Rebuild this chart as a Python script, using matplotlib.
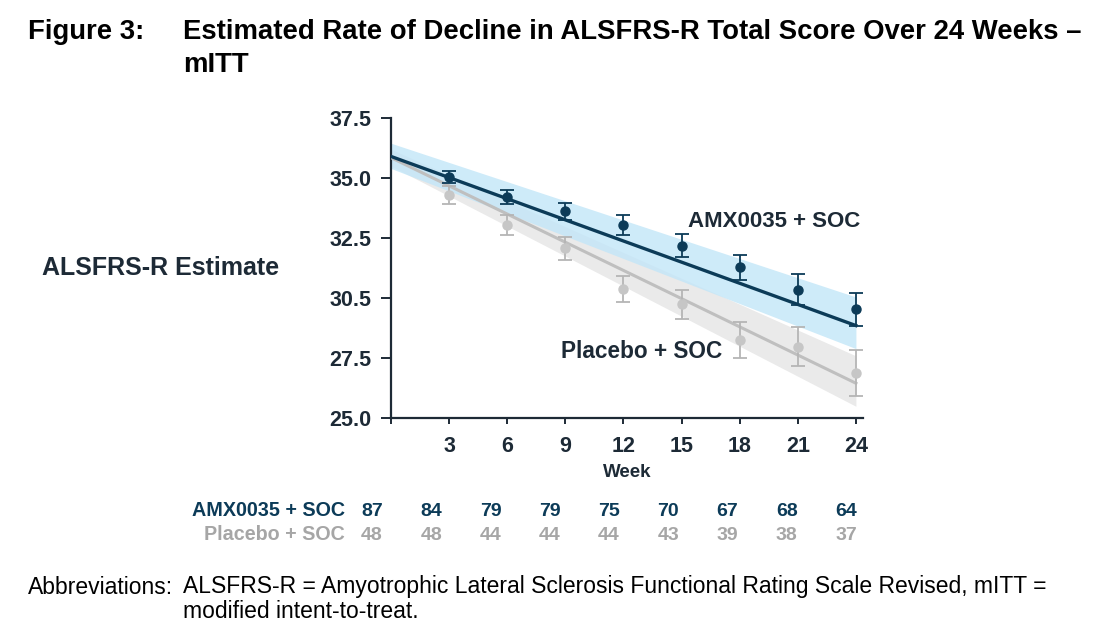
import matplotlib
matplotlib.use("Agg")
import matplotlib.pyplot as plt

plt.rcParams['font.family'] = ['Liberation Sans', 'DejaVu Sans']

# ---- data ----
weeks = [3, 6, 9, 12, 15, 18, 21, 24]
amx_mean = [35.04, 34.23, 33.61, 33.03, 32.19, 31.28, 30.35, 29.54]
amx_err = [0.25, 0.29, 0.36, 0.42, 0.48, 0.53, 0.64, 0.69]
pbo_mean = [34.30, 33.05, 32.08, 30.39, 29.75, 28.25, 27.98, 26.90]
pbo_err = [0.37, 0.40, 0.48, 0.53, 0.60, 0.74, 0.81, 0.96]

fit_weeks = [0, 24]
amx_fit = [35.90, 28.86]
amx_band_lo = [35.40, 27.90]
amx_band_hi = [36.45, 30.05]
pbo_fit = [35.85, 26.46]
pbo_band_lo = [35.50, 25.50]
pbo_band_hi = [36.20, 27.60]

yticks = [25.0, 27.5, 30.0, 32.5, 35.0, 37.5]
ytick_labels = ["25.0", "27.5", "30.5", "32.5", "35.0", "37.5"]
xticks = [0, 3, 6, 9, 12, 15, 18, 21, 24]
xtick_labels = ["", "3", "6", "9", "12", "15", "18", "21", "24"]

risk_weeks = [0, 3, 6, 9, 12, 15, 18, 21, 24]
amx_n = [87, 84, 79, 79, 75, 70, 67, 68, 64]
pbo_n = [48, 48, 44, 44, 44, 43, 39, 38, 37]
risk_labels = ["AMX0035 + SOC", "Placebo + SOC"]

navy = "#0c3b58"
dark_text = "#1d2a36"
grey_line = "#bfbfbf"
grey_pt = "#c6c6c6"
grey_txt = "#a6a6a6"

W, H = 1106, 634
fig = plt.figure(figsize=(W / 100, H / 100), dpi=100)

def fx(px):
    return px / W

def fy(py):
    return 1 - py / H

ax = fig.add_axes([fx(391), fy(418.3), fx(862.7 - 391), (418.3 - 118) / H])

ax.fill_between(fit_weeks, pbo_band_lo, pbo_band_hi, color="#eaeaea", lw=0, zorder=1)
ax.fill_between(fit_weeks, amx_band_lo, amx_band_hi, color="#c2e6f8", alpha=0.8, lw=0, zorder=2)
ax.plot(fit_weeks, pbo_fit, color=grey_line, lw=2.2, zorder=3)
ax.plot(fit_weeks, amx_fit, color=navy, lw=2.4, zorder=4)

ax.errorbar(weeks, pbo_mean, yerr=pbo_err, fmt="o", color=grey_pt, ecolor="#b5b5b5",
            elinewidth=1.3, capsize=5, capthick=1.3, markersize=6.5, zorder=5)
ax.errorbar(weeks, amx_mean, yerr=amx_err, fmt="o", color=navy, ecolor=navy,
            elinewidth=1.3, capsize=5, capthick=1.3, markersize=6.5, zorder=6)

ax.set_xlim(0, 24.35)
ax.set_ylim(25, 37.5)
ax.set_yticks(yticks)
ax.set_yticklabels(ytick_labels)
ax.set_xticks(xticks)
ax.set_xticklabels(xtick_labels)
for s in ["top", "right"]:
    ax.spines[s].set_visible(False)
for s in ["left", "bottom"]:
    ax.spines[s].set_color(dark_text)
    ax.spines[s].set_linewidth(1.6)
ax.tick_params(axis="y", length=7, width=1.4, color=dark_text, pad=7, labelsize=15.5,
               labelcolor=dark_text)
ax.tick_params(axis="x", length=4.5, width=1.4, color=dark_text, pad=8.5, labelsize=15.5,
               labelcolor=dark_text)
for lab in ax.get_xticklabels() + ax.get_yticklabels():
    lab.set_fontweight("bold")

ax.set_xlabel("Week", fontsize=13.5, fontweight="bold", color=dark_text, labelpad=5)

ax.text(15.33, 33.18, "AMX0035 + SOC", fontsize=16, fontweight="bold", color=dark_text,
        ha="left", va="center", zorder=7)
ax.text(8.8, 27.8, "Placebo + SOC", fontsize=16.3, fontweight="bold", color=dark_text,
        ha="left", va="center", zorder=7)

fig.text(fx(42), fy(268), "ALSFRS-R Estimate", fontsize=18, fontweight="bold",
         color=dark_text, ha="left", va="center")

# title
fig.text(fx(28), fy(32), "Figure 3:", fontsize=19.8, fontweight="bold", color="black",
         ha="left", va="center")
fig.text(fx(183), fy(32), "Estimated Rate of Decline in ALSFRS-R Total Score Over 24 Weeks \u2013",
         fontsize=19.8, fontweight="bold", color="black", ha="left", va="center")
fig.text(fx(183), fy(65), "mITT", fontsize=19.8, fontweight="bold", color="black",
         ha="left", va="center")

# number at risk table (x in weeks; 0 -> 372 px, 24 -> 846 px)
tax = fig.add_axes([fx(372), fy(545), fx(846 - 372), 50 / H])
tax.set_xlim(0, 24)
tax.set_ylim(0, 50)
tax.axis("off")
row_y = [34, 10]
row_colors = [navy, grey_txt]
for counts, yy, col, lab in zip([amx_n, pbo_n], row_y, row_colors, risk_labels):
    for w, n in zip(risk_weeks, counts):
        tax.text(w, yy, str(n), fontsize=14, fontweight="bold", color=col,
                 ha="center", va="center")
    tax.text(-1.37, yy, lab, fontsize=14.2, fontweight="bold", color=col,
             ha="right", va="center")

# footer
fig.text(fx(28), fy(587), "Abbreviations:", fontsize=16.5, color="black", ha="left", va="center")
fig.text(fx(183), fy(587),
         "ALSFRS-R = Amyotrophic Lateral Sclerosis Functional Rating Scale Revised, mITT =",
         fontsize=16.5, color="black", ha="left", va="center")
fig.text(fx(183), fy(611), "modified intent-to-treat.", fontsize=16.5, color="black",
         ha="left", va="center")

fig.savefig("out.png", dpi=100)
